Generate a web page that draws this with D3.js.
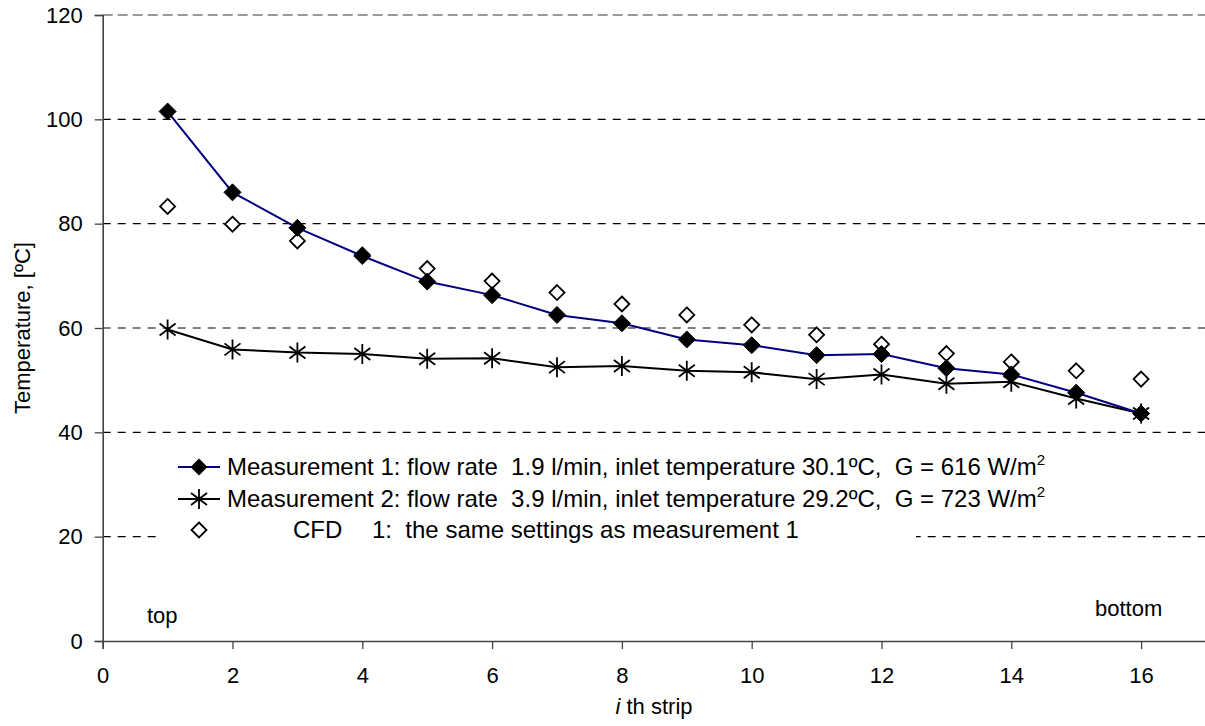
<!DOCTYPE html>
<html>
<head>
<meta charset="utf-8">
<script src="https://d3js.org/d3.v7.min.js"></script>
<style>
  html, body { margin: 0; padding: 0; background: #fff; }
  svg { display: block; font-family: Arial, "Liberation Sans", sans-serif; }
  text { white-space: pre; }
</style>
</head>
<body>
<svg id="chart" width="1205" height="726"></svg>
<script>
// ---- data ----
const strips = [1,2,3,4,5,6,7,8,9,10,11,12,13,14,15,16];
const measurement1 = [101.5,86.0,79.2,73.8,68.9,66.3,62.5,60.9,57.8,56.7,54.8,55.0,52.3,51.1,47.6,43.6];
const measurement2 = [59.7,55.9,55.3,55.0,54.1,54.2,52.5,52.7,51.8,51.5,50.2,51.1,49.3,49.7,46.5,43.6];
const cfd1 = [83.3,79.9,76.7,74.0,71.4,69.0,66.8,64.6,62.5,60.6,58.7,56.9,55.1,53.5,51.8,50.2];
const xTicks = [0,2,4,6,8,10,12,14,16];
const yTicks = [0,20,40,60,80,100,120];
const legendLabels = [
  "Measurement 1: flow rate  1.9 l/min, inlet temperature 30.1ºC,  G = 616 W/m",
  "Measurement 2: flow rate  3.9 l/min, inlet temperature 29.2ºC,  G = 723 W/m",
  "1:  the same settings as measurement 1"
];

const svg = d3.select("#chart");
const x = d3.scaleLinear().domain([0, 17]).range([102.7, 1206]);
const y = d3.scaleLinear().domain([0, 120]).range([641, 15]);

// gridlines
svg.append("g").selectAll("line").data(yTicks.filter(d => d > 0)).join("line")
  .attr("x1", x(0)).attr("x2", 1205)
  .attr("y1", d => y(d)).attr("y2", d => y(d))
  .attr("stroke", d => d === 120 ? "#999" : "#000")
  .attr("stroke-width", d => d === 120 ? 2 : 1.2)
  .attr("stroke-dasharray", d => d === 120 ? "10,5" : "8,7");

// legend background box (hides part of 20 gridline)
svg.append("rect").attr("x", 160).attr("y", 446).attr("width", 756).attr("height", 112).attr("fill", "#fff");

// axes
const yAxis = d3.axisLeft(y).tickValues(yTicks).tickSize(8).tickPadding(12);
const gy = svg.append("g").attr("transform", `translate(${x(0)},0)`).call(yAxis);
gy.select(".domain").attr("stroke", "#444").attr("stroke-width", 1.6);
gy.selectAll(".tick line").attr("stroke", "#444").attr("stroke-width", 1.3);
gy.selectAll(".tick text").attr("font-size", 22).attr("font-family", "Arial, 'Liberation Sans', sans-serif").attr("fill", "#000");

const xAxis = d3.axisBottom(x).tickValues(xTicks).tickSize(8).tickPadding(18);
const gx = svg.append("g").attr("transform", `translate(0,${y(0)})`).call(xAxis);
gx.select(".domain").attr("stroke", "#444").attr("stroke-width", 1.6);
gx.selectAll(".tick line").attr("stroke", "#444").attr("stroke-width", 1.3);
gx.selectAll(".tick text").attr("font-size", 22).attr("font-family", "Arial, 'Liberation Sans', sans-serif").attr("fill", "#000");

// axis titles
svg.append("text").attr("transform", "translate(30,328) rotate(-90)")
  .attr("text-anchor", "middle").attr("font-size", 22).text("Temperature, [ºC]");
const xt = svg.append("text").attr("x", 654).attr("y", 714).attr("text-anchor", "middle").attr("font-size", 22);
xt.append("tspan").attr("font-style", "italic").text("i");
xt.append("tspan").text(" th strip");

// top / bottom annotations
svg.append("text").attr("x", 147).attr("y", 623).attr("font-size", 22).text("top");
svg.append("text").attr("x", 1095).attr("y", 616).attr("font-size", 22).text("bottom");

// marker helpers
function diamondPath(cx, cy, r) {
  return `M${cx},${cy - r}L${cx + r},${cy}L${cx},${cy + r}L${cx - r},${cy}Z`;
}
function starPath(cx, cy, r) {
  const d = r * 0.8;
  return `M${cx},${cy - r}L${cx},${cy + r}M${cx - d},${cy - d * 0.75}L${cx + d},${cy + d * 0.75}M${cx - d},${cy + d * 0.75}L${cx + d},${cy - d * 0.75}`;
}

const line = d3.line().x((d, i) => x(strips[i])).y(d => y(d));

// measurement 2 line + stars
svg.append("path").datum(measurement2).attr("d", line)
  .attr("fill", "none").attr("stroke", "#000").attr("stroke-width", 2);
svg.append("g").selectAll("path").data(measurement2).join("path")
  .attr("d", (d, i) => starPath(x(strips[i]), y(d), 10))
  .attr("stroke", "#000").attr("stroke-width", 1.8).attr("fill", "none");

// CFD hollow diamonds
svg.append("g").selectAll("path").data(cfd1).join("path")
  .attr("d", (d, i) => diamondPath(x(strips[i]), y(d), 7.5))
  .attr("stroke", "#000").attr("stroke-width", 1.8).attr("fill", "#fff");

// measurement 1 line + filled diamonds
svg.append("path").datum(measurement1).attr("d", line)
  .attr("fill", "none").attr("stroke", "#000080").attr("stroke-width", 2);
svg.append("g").selectAll("path").data(measurement1).join("path")
  .attr("d", (d, i) => diamondPath(x(strips[i]), y(d), 8.5))
  .attr("fill", "#000").attr("stroke", "#000").attr("stroke-width", 1);

// legend
const legRows = [475, 507, 538];
function legText(tx, ty, str, sup) {
  const t = svg.append("text").attr("x", tx).attr("y", ty).attr("font-size", 24);
  t.append("tspan").text(str);
  if (sup) t.append("tspan").attr("font-size", 15).attr("dy", -10).text(sup);
}
// row 1
svg.append("line").attr("x1", 178).attr("x2", 220).attr("y1", legRows[0] - 8).attr("y2", legRows[0] - 8)
  .attr("stroke", "#000080").attr("stroke-width", 2);
svg.append("path").attr("d", diamondPath(199, legRows[0] - 8, 8.5)).attr("fill", "#000");
legText(227, legRows[0], legendLabels[0], "2");
// row 2
svg.append("line").attr("x1", 178).attr("x2", 220).attr("y1", legRows[1] - 8).attr("y2", legRows[1] - 8)
  .attr("stroke", "#000").attr("stroke-width", 2);
svg.append("path").attr("d", starPath(199, legRows[1] - 8, 10)).attr("stroke", "#000").attr("stroke-width", 1.8).attr("fill", "none");
legText(227, legRows[1], legendLabels[1], "2");
// row 3
svg.append("path").attr("d", diamondPath(199, legRows[2] - 8, 7.5)).attr("stroke", "#000").attr("stroke-width", 1.8).attr("fill", "#fff");
legText(293, legRows[2], "CFD");
legText(372, legRows[2], legendLabels[2]);
</script>
</body>
</html>
